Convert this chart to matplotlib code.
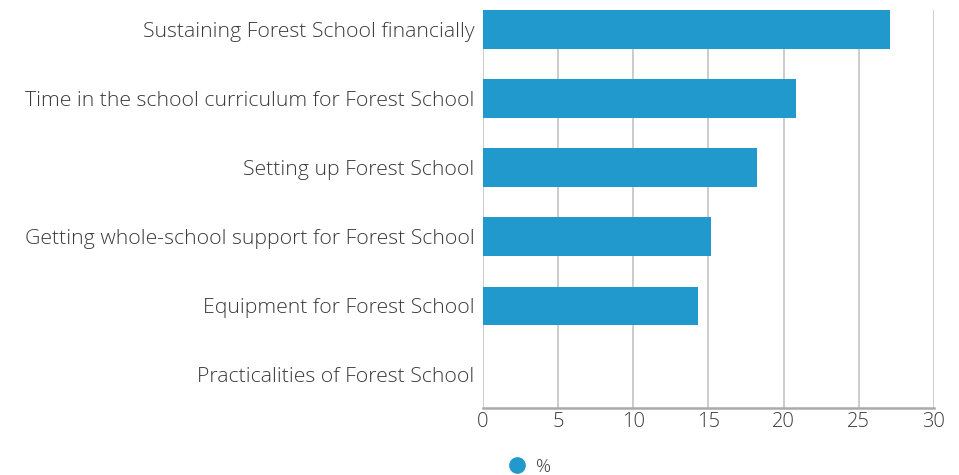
import matplotlib.pyplot as plt
from matplotlib.lines import Line2D

categories = [
    "Sustaining Forest School financially",
    "Time in the school curriculum for Forest School",
    "Setting up Forest School",
    "Getting whole-school support for Forest School",
    "Equipment for Forest School",
    "Practicalities of Forest School",
]
values = [27.1, 20.8, 18.2, 15.2, 14.3, 0]
xticks = [0, 5, 10, 15, 20, 25, 30]

bar_color = "#2199cc"
text_color = "#3a3a3a"

plt.rcParams["font.family"] = ["Open Sans", "DejaVu Sans"]

fig = plt.figure(figsize=(9.59, 4.75), dpi=100)
ax = fig.add_axes([0.5036, 0.141, 0.4703, 0.838])

pos = list(range(len(categories)))
ax.barh(pos, values, height=0.557, color=bar_color, zorder=3)

ax.set_ylim(5.48, -0.28)
ax.set_xlim(0, 30)
ax.set_xticks(xticks)
ax.set_yticks(pos)
ax.set_yticklabels(categories)

ax.grid(axis="x", color="#c8c8c8", linewidth=1.3, zorder=0)
ax.grid(axis="y", visible=False)
for side in ["top", "right", "left"]:
    ax.spines[side].set_visible(False)
ax.spines["bottom"].set_color("#aaaaaa")
ax.spines["bottom"].set_linewidth(1.8)

ax.tick_params(axis="both", length=0, labelcolor=text_color)
ax.tick_params(axis="y", pad=6, labelsize=15.3)
ax.tick_params(axis="x", pad=3, labelsize=14.5)
for lbl in ax.get_xticklabels() + ax.get_yticklabels():
    lbl.set_fontweight("light")

handle = Line2D([], [], marker="o", linestyle="none", markersize=11,
                color=bar_color, label="%")
leg = fig.legend(handles=[handle], loc="center left",
                 bbox_to_anchor=(0.502, 0.017), frameon=False,
                 handletextpad=0.0, fontsize=13.5)
for t in leg.get_texts():
    t.set_color(text_color)
    t.set_fontweight("light")

fig.savefig("out.png", dpi=100)
